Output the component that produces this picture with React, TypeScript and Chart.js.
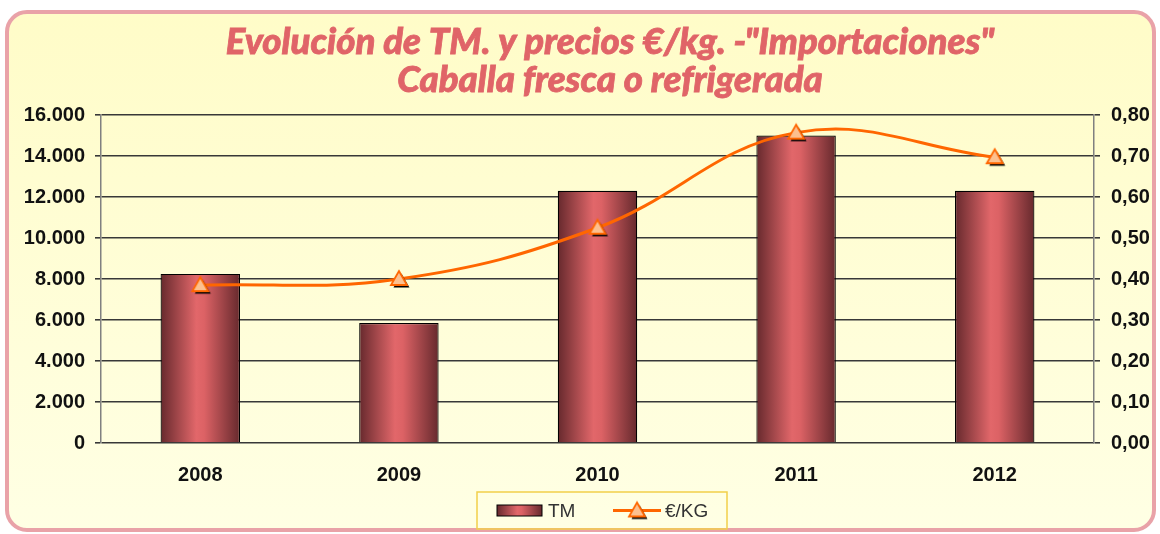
import React, { useEffect, useRef } from "react";
import { Chart, registerables } from "chart.js";

Chart.register(...registerables);

const years = ["2008", "2009", "2010", "2011", "2012"];
const tm = [8250, 5850, 12300, 15000, 12300];
const prices = [0.385, 0.4, 0.525, 0.757, 0.697];
const titleLines = ['Evolución de TM. y precios €/kg. -"Importaciones"', "Caballa fresca o refrigerada"];
const seriesLabels = ["TM", "€/KG"];

const W = 1160;
const H = 534;

function makeTriangle(): HTMLCanvasElement {
  const c = document.createElement("canvas");
  c.width = 28;
  c.height = 28;
  const g = c.getContext("2d")!;
  const tri = (cx: number, cy: number) => {
    g.beginPath();
    g.moveTo(cx, cy - 8);
    g.lineTo(cx + 8, cy + 6);
    g.lineTo(cx - 8, cy + 6);
    g.closePath();
  };
  g.fillStyle = "#000";
  tri(16.5, 16.5);
  g.fill();
  g.fillStyle = "#fcc08f";
  g.strokeStyle = "#ff6600";
  g.lineWidth = 1.8;
  tri(14, 14);
  g.fill();
  g.stroke();
  return c;
}

function barGradient(ctx: CanvasRenderingContext2D, x0: number, x1: number) {
  const gr = ctx.createLinearGradient(x0, 0, x1, 0);
  gr.addColorStop(0, "#66292d");
  gr.addColorStop(0.45, "#e2676a");
  gr.addColorStop(0.55, "#dc6265");
  gr.addColorStop(1, "#66292d");
  return gr;
}

export default function App() {
  const ref = useRef<HTMLCanvasElement>(null);
  useEffect(() => {
    const canvas = ref.current!;
    const triangle = makeTriangle();
    const BAR_PCT = 0.4;
    const tickFont = { family: "'Liberation Sans'", size: 20, weight: "bold" };

    const overlay = {
      id: "overlay",
      afterDraw(chart: any) {
        const ctx = chart.ctx as CanvasRenderingContext2D;
        ctx.save();
        // Title
        ctx.fillStyle = "#e06468";
        ctx.textAlign = "center";
        ctx.textBaseline = "middle";
        const cx = 610;
        ctx.font = "italic 900 28px Lato";
        const w0 = ctx.measureText(titleLines[0]).width;
        const size = (28 * 770) / w0;
        ctx.font = `italic 900 ${size.toFixed(1)}px Lato`;
        ctx.strokeStyle = "#e06468";
        ctx.lineWidth = 0.8;
        ctx.fillText(titleLines[0], cx, 42);
        ctx.strokeText(titleLines[0], cx, 42);
        ctx.fillText(titleLines[1], cx, 80);
        ctx.strokeText(titleLines[1], cx, 80);

        // Legend
        const top = 492, bottom = 529, left = 477, right = 727;
        ctx.strokeStyle = "#f2cf4a";
        ctx.lineWidth = 1.5;
        ctx.strokeRect(left, top, right - left, bottom - top);
        const my = (top + bottom) / 2;
        ctx.fillStyle = barGradient(ctx, 497, 542);
        ctx.fillRect(497, my - 5.5, 45, 11);
        ctx.strokeStyle = "#000";
        ctx.lineWidth = 1;
        ctx.strokeRect(497, my - 5.5, 45, 11);
        ctx.font = "19px 'Liberation Sans'";
        ctx.fillStyle = "#333";
        ctx.textAlign = "left";
        ctx.fillText(seriesLabels[0], 548, my + 1);
        ctx.strokeStyle = "#ff6600";
        ctx.lineWidth = 3;
        ctx.beginPath();
        ctx.moveTo(613, my);
        ctx.lineTo(661, my);
        ctx.stroke();
        ctx.drawImage(triangle, 637 - 14, my - 14);
        ctx.fillStyle = "#333";
        ctx.fillText(seriesLabels[1], 665, my + 1);
        ctx.restore();
      },
    };

    const chart = new Chart(canvas, {
      type: "bar",
      data: {
        labels: years,
        datasets: [
          {
            type: "line",
            label: seriesLabels[1],
            data: prices,
            yAxisID: "y1",
            borderColor: "#ff6600",
            borderWidth: 3,
            tension: 0.4,
            pointStyle: triangle as any,
            pointRadius: 10,
            order: 0,
          } as any,
          {
            type: "bar",
            label: seriesLabels[0],
            data: tm,
            yAxisID: "y",
            borderColor: "#000",
            borderWidth: 1.2,
            barPercentage: BAR_PCT,
            categoryPercentage: 1,
            order: 1,
            backgroundColor: (c: any) => {
              const ch = c.chart;
              const xs = ch.scales.x;
              if (!ch.chartArea || !xs) return "#d05a5e";
              const x = xs.getPixelForValue(c.dataIndex);
              const bw = (xs.width / years.length) * BAR_PCT;
              return barGradient(ch.ctx, x - bw / 2, x + bw / 2);
            },
          } as any,
        ],
      },
      options: {
        responsive: false,
        animation: false,
        layout: { padding: { top: 115, bottom: 41, left: 0, right: 0 } },
        plugins: {
          legend: { display: false },
          title: { display: false },
          tooltip: { enabled: false },
        },
        scales: {
          x: {
            grid: { display: false, drawTicks: false },
            border: { display: false },
            ticks: { color: "#111", font: tickFont, padding: 20 },
            afterFit: (s: any) => { s.height = 50; },
          },
          y: {
            position: "left",
            min: 0,
            max: 16000,
            grid: { color: "#383838", lineWidth: 1.6, tickLength: 6 },
            border: { color: "#808080", width: 1.5 },
            ticks: {
              stepSize: 2000,
              color: "#111",
              padding: 10,
              font: tickFont,
              callback: (v: any) => Number(v).toLocaleString("de-DE"),
            },
            afterFit: (s: any) => { s.width = 101; },
          },
          y1: {
            position: "right",
            min: 0,
            max: 0.8,
            grid: { drawOnChartArea: false, color: "#383838", lineWidth: 1.6, tickLength: 6 },
            border: { color: "#808080", width: 1.5 },
            ticks: {
              stepSize: 0.1,
              color: "#111",
              padding: 11,
              font: tickFont,
              callback: (v: any) => Number(v).toFixed(2).replace(".", ","),
            },
            afterFit: (s: any) => { s.width = 66; },
          },
        },
      } as any,
      plugins: [overlay],
    });
    return () => chart.destroy();
  }, []);

  return (
    <div style={{ position: "absolute", left: 0, top: 0, width: W, height: H, background: "#fff", overflow: "hidden" }}>
      <div
        style={{
          position: "absolute",
          left: 5,
          top: 10,
          width: 1143,
          height: 514,
          border: "4px solid #e9a2a8",
          borderRadius: 22,
          background: "linear-gradient(#fffcc8, #ffffe4)",
        }}
      />
      <canvas ref={ref} width={W} height={H} style={{ position: "absolute", left: 0, top: 0 }} />
    </div>
  );
}
